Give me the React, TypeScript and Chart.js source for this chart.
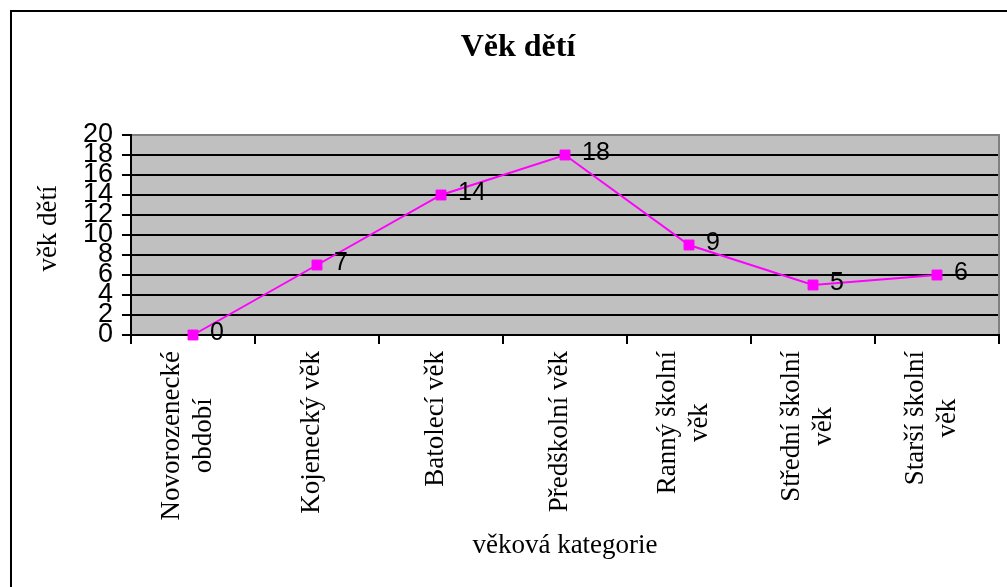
import React, { useEffect, useRef } from "react";
import { Chart, registerables } from "chart.js";

Chart.register(...registerables);

// ---- data ----
const categories: string[][] = [
  ["Novorozenecké", "období"],
  ["Kojenecký věk"],
  ["Batolecí věk"],
  ["Předškolní věk"],
  ["Ranný školní", "věk"],
  ["Střední školní", "věk"],
  ["Starší školní", "věk"],
];
const values: number[] = [0, 7, 14, 18, 9, 5, 6];
const yMin = 0;
const yMax = 20;
const yStep = 2;
const chartTitle = "Věk dětí";
const yTitle = "věk dětí";
const xTitle = "věková kategorie";

const SERIF = '"Liberation Serif", "Times New Roman", serif';
const SANS = '"Liberation Sans", Arial, sans-serif';

const framePlugin = {
  id: "frame",
  beforeDraw(chart: any) {
    const { ctx, chartArea: a } = chart;
    ctx.save();
    ctx.fillStyle = "#ffffff";
    ctx.fillRect(0, 0, chart.width, chart.height);
    ctx.fillStyle = "#000000";
    ctx.fillRect(10, 10, chart.width - 10, 2);
    ctx.fillRect(10, 10, 2, chart.height - 10);
    ctx.fillStyle = "#C0C0C0";
    ctx.fillRect(a.left, a.top, a.right - a.left, a.bottom - a.top);
    ctx.restore();
  },
  beforeDatasetsDraw(chart: any) {
    const { ctx, chartArea: a } = chart;
    ctx.save();
    ctx.fillStyle = "#808080";
    ctx.fillRect(a.left + 1, a.top - 1, a.right - a.left, 2);
    ctx.fillRect(a.right - 1, a.top - 1, 2, a.bottom - a.top);
    ctx.restore();
  },
};

const textPlugin = {
  id: "texts",
  afterDatasetsDraw(chart: any) {
    const ctx = chart.ctx;
    const xs = chart.scales.x;
    ctx.save();
    ctx.fillStyle = "#000000";
    ctx.textBaseline = "middle";

    // chart title
    ctx.font = `bold 32px ${SERIF}`;
    ctx.textAlign = "center";
    ctx.fillText(chartTitle, 518, 48);

    // y axis title
    ctx.save();
    ctx.translate(49, 228.5);
    ctx.rotate(-Math.PI / 2);
    ctx.font = `27px ${SERIF}`;
    ctx.textAlign = "center";
    ctx.fillText(yTitle, 0, 0);
    ctx.restore();

    // category labels (rotated)
    ctx.font = `27px ${SERIF}`;
    categories.forEach((lines, i) => {
      const px = xs.getPixelForValue(i) - 5;
      const maxW = Math.max(...lines.map((l) => ctx.measureText(l).width));
      ctx.save();
      ctx.translate(px, chart.chartArea.bottom + 16);
      ctx.rotate(-Math.PI / 2);
      ctx.textAlign = "center";
      lines.forEach((l, j) => {
        ctx.fillText(l, -maxW / 2, (j - (lines.length - 1) / 2) * 32);
      });
      ctx.restore();
    });

    // data labels
    ctx.font = `25px ${SANS}`;
    ctx.textAlign = "left";
    const meta = chart.getDatasetMeta(0);
    meta.data.forEach((pt: any, i: number) => {
      ctx.fillText(String(values[i]), pt.x + 17, pt.y - 2);
    });
    ctx.restore();
  },
};

export default function App() {
  const ref = useRef<HTMLCanvasElement | null>(null);

  useEffect(() => {
    if (!ref.current) return;
    const chart = new Chart(ref.current, {
      type: "line",
      data: {
        labels: categories.map((c) => c.join(" ")),
        datasets: [
          {
            data: values,
            borderColor: "#FF00FF",
            borderWidth: 2,
            backgroundColor: "#FF00FF",
            pointStyle: "rect",
            pointRadius: 7,
            pointBorderWidth: 1,
            pointBackgroundColor: "#FF00FF",
            pointBorderColor: "#FF00FF",
            tension: 0,
            fill: false,
            clip: false as any,
          },
        ],
      },
      options: {
        animation: false,
        responsive: false,
        devicePixelRatio: 1,
        layout: { padding: { top: 135, left: 0, right: 5, bottom: 0 } },
        plugins: {
          legend: { display: false },
          tooltip: { enabled: false },
          title: { display: false },
        },
        scales: {
          x: {
            type: "category",
            offset: true,
            afterFit: (s: any) => {
              s.height = 252;
            },
            grid: {
              display: true,
              drawOnChartArea: false,
              drawTicks: true,
              tickLength: 9,
              offset: true,
              color: "#000000",
              lineWidth: 2,
            },
            border: { display: true, color: "#000000", width: 2 },
            ticks: { display: false },
            title: {
              display: true,
              text: xTitle,
              color: "#000000",
              font: { family: SERIF, size: 27 },
              padding: { top: 0, bottom: 25 },
            },
          },
          y: {
            type: "linear",
            min: yMin,
            max: yMax,
            afterFit: (s: any) => {
              s.width = 131;
            },
            grid: {
              color: (c: any) => (c.tick && c.tick.value === yMax ? "#808080" : "#000000"),
              tickColor: "#000000",
              lineWidth: 2,
              drawTicks: true,
              tickLength: 9,
            },
            border: { display: true, color: "#000000", width: 2 },
            ticks: {
              stepSize: yStep,
              autoSkip: false,
              color: "#000000",
              padding: 9,
              font: { family: SANS, size: 27 },
            },
          },
        },
      },
      plugins: [framePlugin, textPlugin],
    });
    return () => chart.destroy();
  }, []);

  return (
    <div style={{ position: "fixed", left: 0, top: 0, width: 1007, height: 587, background: "#fff" }}>
      <canvas ref={ref} width={1007} height={587} style={{ display: "block" }} />
    </div>
  );
}
